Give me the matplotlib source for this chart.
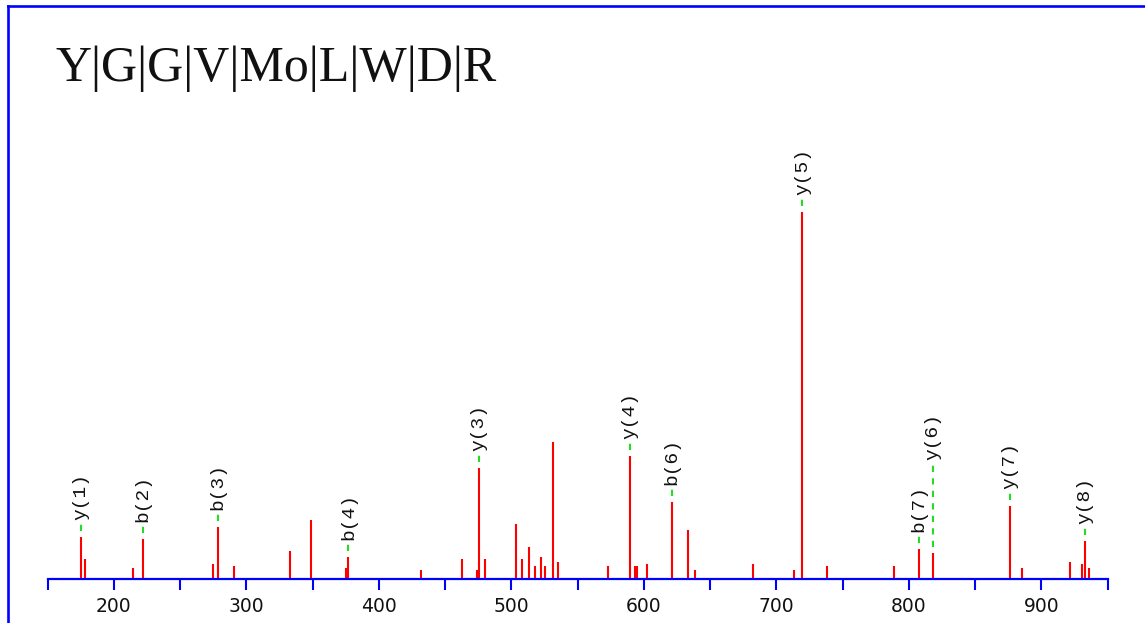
import matplotlib
matplotlib.use("Agg")
import matplotlib.pyplot as plt
from matplotlib.lines import Line2D

# ---- data ----
peptide = ["Y", "G", "G", "V", "Mo", "L", "W", "D", "R"]

peak_mz = [175.1, 178.3, 214.3, 222.1, 275.1, 278.4, 290.8, 333.0, 348.6,
           375.3, 377.1, 431.6, 463.1, 473.9, 475.7, 480.4, 503.6, 508.3,
           513.2, 517.7, 522.5, 525.7, 531.8, 535.0, 572.8, 589.6, 593.4,
           594.7, 602.5, 621.3, 633.6, 638.5, 682.2, 713.4, 719.7, 738.5,
           788.6, 807.5, 818.3, 876.4, 885.7, 921.7, 930.8, 932.8, 935.8]
peak_int = [42, 20, 11, 40, 15, 52, 13, 28, 59,
            11, 22, 9, 20, 9, 111, 20, 55, 20,
            32, 13, 22, 13, 137, 17, 13, 123, 13,
            13, 15, 77, 49, 9, 15, 9, 367, 13,
            13, 30, 26, 73, 11, 17, 15, 38, 11]

ion_labels = ["y(1)", "b(2)", "b(3)", "b(4)", "y(3)", "y(4)",
              "b(6)", "y(5)", "b(7)", "y(6)", "y(7)", "y(8)"]
ion_mz = [175.1, 222.1, 278.4, 377.1, 475.7, 589.6,
          621.3, 719.7, 807.5, 818.3, 876.4, 932.8]

xticks_major = list(range(200, 901, 100))
xticks_all = list(range(150, 951, 50))

# ---- layout (pixels) ----
W, H = 1145, 623
ax_left, ax_right = 47.5, 1107.5
base_y, top_y = 579, 100          # baseline / top of axes, from image top
BLUE = "#0000ff"
RED = "#ff0000"
GREEN = "#22dd22"

plt.rcParams["lines.scale_dashes"] = False

fig = plt.figure(figsize=(W / 100, H / 100), dpi=100)
fig.patch.set_facecolor("white")
ax = fig.add_axes([ax_left / W, (H - base_y) / H,
                   (ax_right - ax_left) / W, (base_y - top_y) / H])
ax.set_xlim(150, 950)
ax.set_ylim(0, base_y - top_y)      # 1 intensity unit == 1 pixel
ax.patch.set_alpha(0)

for s in ["top", "right", "left"]:
    ax.spines[s].set_visible(False)
ax.spines["bottom"].set_color(BLUE)
ax.spines["bottom"].set_linewidth(1.6)
ax.set_yticks([])
ax.set_xticks(xticks_all)
ax.set_xticklabels([str(t) if t in xticks_major else "" for t in xticks_all],
                   fontsize=13.5, family="DejaVu Sans", color="#111111")
ax.tick_params(axis="x", direction="out", length=8, width=1.5, color=BLUE, pad=5)

# peaks
ax.vlines(peak_mz, 0, peak_int, colors=RED, linewidth=1.5)

# ion annotations: dashed green connector + rotated label
lift = {"y(6)": 93}
for lab, mz in zip(ion_labels, ion_mz):
    h = peak_int[peak_mz.index(mz)]
    off = lift.get(lab, 17)
    ax.plot([mz, mz], [h + 6, h + off - 4], color=GREEN, linewidth=1.5,
            dashes=(4.5, 4.5))
    ax.text(mz, h + off, lab, rotation=90, ha="center", va="bottom",
            fontsize=14, family="Liberation Mono", color="#111111")

# title
fig.text(55 / W, (H - 81) / H, "|".join(peptide), fontsize=36,
         family="Liberation Serif", ha="left", va="baseline", color="#111111")

# blue frame (top and left edges)
fig.add_artist(Line2D([8.3 / W, 8.3 / W], [0, (H - 5.8) / H], color=BLUE,
                      linewidth=1.9, transform=fig.transFigure))
fig.add_artist(Line2D([8.3 / W, 1], [(H - 5.8) / H, (H - 5.8) / H], color=BLUE,
                      linewidth=1.9, transform=fig.transFigure))

fig.savefig("out.png", dpi=100)
